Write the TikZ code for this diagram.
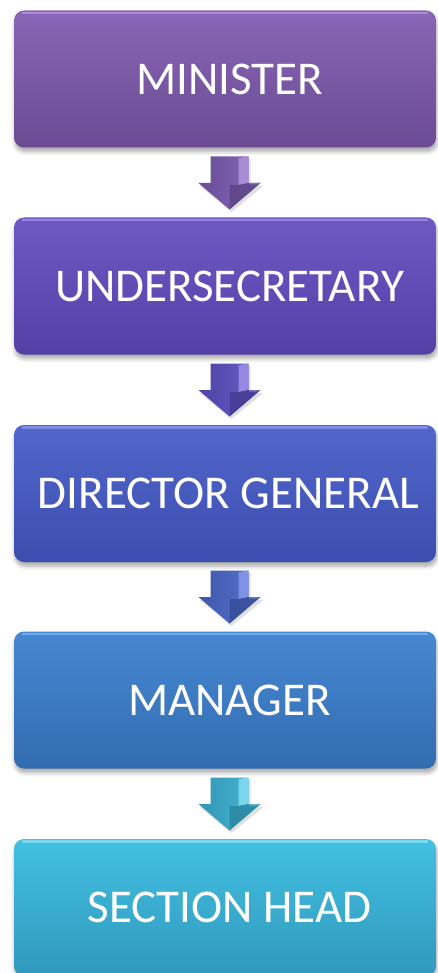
\documentclass[tikz,border=0pt]{standalone}
\usepackage{fontspec}
\setmainfont{Carlito}
\usetikzlibrary{shadows.blur}
\definecolor{c1t}{HTML}{8A66B6}\definecolor{c1b}{HTML}{6A4B93}\definecolor{c1h}{HTML}{B89AE0}
\definecolor{c2t}{HTML}{6E58C2}\definecolor{c2b}{HTML}{5540A8}\definecolor{c2h}{HTML}{A898EE}
\definecolor{c3t}{HTML}{5266CC}\definecolor{c3b}{HTML}{3C4EAE}\definecolor{c3h}{HTML}{8FA0F0}
\definecolor{c4t}{HTML}{4688D2}\definecolor{c4b}{HTML}{336CB0}\definecolor{c4h}{HTML}{88BAF0}
\definecolor{c5t}{HTML}{42C0E2}\definecolor{c5b}{HTML}{3198BC}\definecolor{c5h}{HTML}{8EE4F8}
\definecolor{a1}{HTML}{7B5AB2}\definecolor{a2}{HTML}{5A4EC2}\definecolor{a3}{HTML}{4766C8}
\definecolor{a4}{HTML}{3F86CC}\definecolor{a5}{HTML}{38B0D4}
\tikzset{
  box/.style={rounded corners=10pt, minimum width=422pt, minimum height=137pt,
    text=white, font=\fontsize{47}{50}\selectfont, inner sep=0pt,
    blur shadow={shadow xshift=1pt, shadow yshift=-4pt, shadow blur steps=6, shadow blur radius=4pt, shadow opacity=35}},
  hl/.style={line width=2.5pt, opacity=0.7, line cap=round}
}
\newcommand{\blockarrow}[3]{%
  \begin{scope}[shift={(#1)}]
    \fill[black, opacity=0.12] (-17,-24) -- (21,-24) -- (21,3) -- (34,3) -- (2,29) -- (-30,3) -- (-17,3) -- cycle;
    \shade[left color=#2!85!black, right color=#2!90!white]
      (-19,-26.5) -- (19,-26.5) -- (19,0) -- (31,0) -- (0,26.5) -- (-31,0) -- (-19,0) -- cycle;
    \fill[#3, opacity=0.75] (9,-24.5) -- (17,-26.5) -- (19,-26.5) -- (19,0) -- (9,2) -- cycle;
    \fill[#2!75!black, opacity=0.8] (0,2) -- (9,2) -- (19,0) -- (31,0) -- (0,26.5) -- cycle;
    \fill[#3, opacity=0.5] (19,0) -- (31,0) -- (27,1.5) -- (20,1.5) -- cycle;
  \end{scope}}
\begin{document}
\begin{tikzpicture}[x=1pt,y=-1pt]
\useasboundingbox (0,0) rectangle (437,973);
\node[box, top color=c1t, bottom color=c1b] (b1) at (225,79) {\hspace*{9pt}MINISTER};
\node[box, top color=c2t, bottom color=c2b] (b2) at (225,286) {\hspace*{9pt}UNDERSECRETARY};
\node[box, top color=c3t, bottom color=c3b] (b3) at (225,493.5) {\hspace*{7pt}DIRECTOR GENERAL};
\node[box, top color=c4t, bottom color=c4b] (b4) at (225,700) {\hspace*{9pt}MANAGER};
\node[box, top color=c5t, bottom color=c5b] (b5) at (225,907.5) {\hspace*{9pt}SECTION HEAD};
\foreach \b/\h in {b1/c1h,b2/c2h,b3/c3h,b4/c4h,b5/c5h}{
  \draw[hl, \h] ([xshift=9pt,yshift=-2.5pt]\b.north west) -- ([xshift=-9pt,yshift=-2.5pt]\b.north east);
}
\coordinate (ar1) at (229.5,183);
\coordinate (ar2) at (229.5,390);
\coordinate (ar3) at (229.5,597);
\coordinate (ar4) at (229.5,804);
\blockarrow{ar1}{a1}{c1h}
\blockarrow{ar2}{a2}{c2h}
\blockarrow{ar3}{a3}{c3h}
\blockarrow{ar4}{a5}{c5h}
\end{tikzpicture}
\end{document}
